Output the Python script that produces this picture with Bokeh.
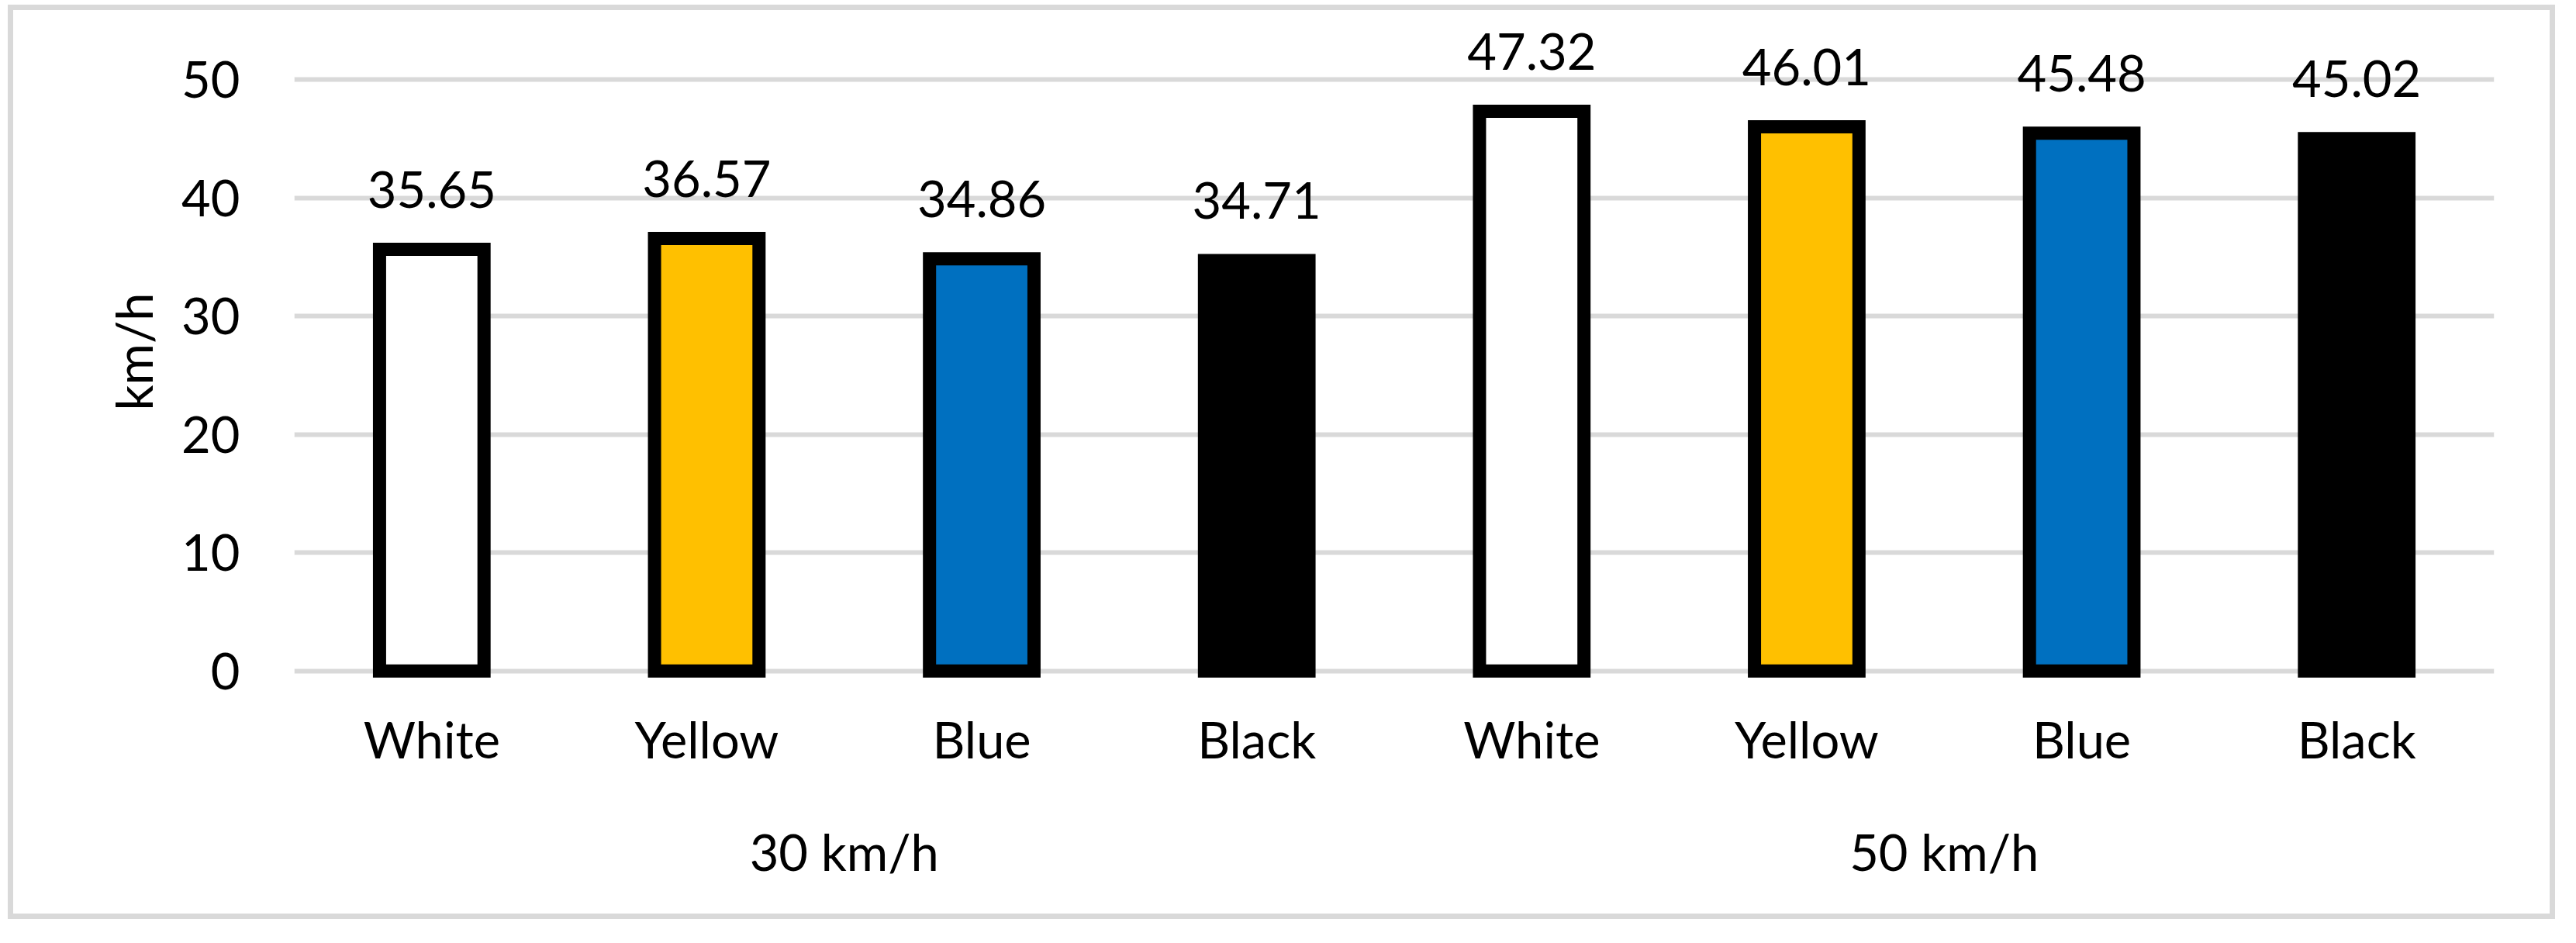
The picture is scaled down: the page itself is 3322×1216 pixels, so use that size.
from bokeh.plotting import figure
from bokeh.models import FactorRange, Range1d, FixedTicker, ColumnDataSource, CategoricalAxis
from bokeh.embed import file_html
from bokeh.resources import INLINE
from bokeh.core.properties import value

speed_groups = ["30 km/h", "50 km/h"]
color_names = ["White", "Yellow", "Blue", "Black"]
speeds_30 = [35.65, 36.57, 34.86, 34.71]
speeds_50 = [47.32, 46.01, 45.48, 45.02]
fill_colors = ["#FFFFFF", "#FFC000", "#0070C0", "#000000"]
y_ticks = [0, 10, 20, 30, 40, 50]

factors = [(g, c) for g in speed_groups for c in color_names]
vals = speeds_30 + speeds_50
labels = [f"{v:.2f}" for v in vals]
fills = fill_colors * 2

source = ColumnDataSource(dict(x=factors, top=vals, label=labels, fill=fills))

FONT = "Lato"
FS = "65px"

p = figure(
    x_range=FactorRange(factors=factors, range_padding=0, group_padding=0,
                        subgroup_padding=0, factor_padding=0),
    y_range=Range1d(-1, 55),
    width=3271, height=1165,
    output_backend="svg", toolbar_location=None,
    min_border_left=362, min_border_right=86, min_border_top=13, min_border_bottom=312,
)
p.extra_x_ranges = {"groups": FactorRange(factors=speed_groups, range_padding=0, factor_padding=0)}

p.vbar(x="x", top="top", width=0.38, source=source, fill_color="fill",
       line_color="black", line_width=17, line_join="miter")

p.text(x="x", y="top", text="label", source=source, text_align="center",
       text_baseline="alphabetic", y_offset=-77, text_font=value(FONT),
       text_font_size=FS, text_color="black")

# x axis (colour names)
xa = p.xaxis[0]
xa.axis_line_color = None
xa.major_tick_line_color = None
xa.minor_tick_line_color = None
xa.major_tick_out = 0
xa.major_tick_in = 0
xa.separator_line_color = None
xa.major_label_standoff = 33
xa.major_label_text_font = FONT
xa.major_label_text_font_size = FS
xa.major_label_text_color = "black"
xa.group_text_font_size = "0px"
xa.group_text_color = None

# second axis (speed groups)
ga = CategoricalAxis(x_range_name="groups")
ga.axis_line_color = None
ga.major_tick_line_color = None
ga.minor_tick_line_color = None
ga.major_tick_out = 0
ga.major_tick_in = 0
ga.major_label_standoff = 64
ga.major_label_text_font = FONT
ga.major_label_text_font_size = FS
ga.major_label_text_color = "black"
p.add_layout(ga, "below")

# y axis
ya = p.yaxis[0]
ya.ticker = FixedTicker(ticks=y_ticks)
ya.axis_line_color = None
ya.major_tick_line_color = None
ya.minor_tick_line_color = None
ya.major_tick_out = 0
ya.major_tick_in = 0
ya.major_label_standoff = 70
ya.major_label_text_font = FONT
ya.major_label_text_font_size = FS
ya.major_label_text_color = "black"
ya.axis_label = "km/h"
ya.axis_label_text_font = FONT
ya.axis_label_text_font_size = FS
ya.axis_label_text_font_style = "normal"
ya.axis_label_text_color = "black"
ya.axis_label_standoff = 20

p.ygrid.ticker = FixedTicker(ticks=y_ticks)
p.ygrid.grid_line_color = "#D9D9D9"
p.ygrid.grid_line_width = 6
p.xgrid.grid_line_color = None
p.outline_line_color = None

p.styles = {"border": "7px solid #D9D9D9", "box-sizing": "content-box",
            "transform": "translate(10px, 6px)"}

open("out.html", "w").write(file_html(p, INLINE))
